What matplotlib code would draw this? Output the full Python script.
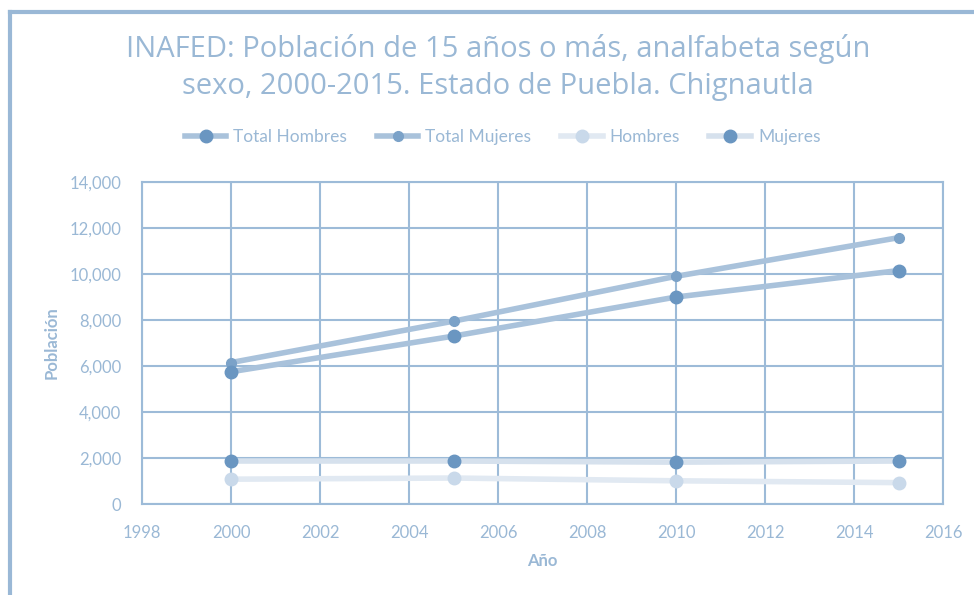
import numpy as np
import matplotlib.pyplot as plt
from matplotlib.lines import Line2D

plt.rcParams['font.family'] = ['Lato', 'DejaVu Sans']

years = [2000, 2005, 2010, 2015]
total_hombres = [5750, 7300, 9000, 10150]
total_mujeres = [6150, 7950, 9900, 11580]
hombres = [1080, 1130, 1010, 930]
mujeres = [1870, 1870, 1820, 1870]

txt = '#9ab8d5'
grid = '#9dbbd8'
dark = '#6a96c1'

fig = plt.figure(figsize=(9.74, 5.95), dpi=100)
ax = fig.add_axes([0.1458, 0.1529, 0.8224, 0.5412])

# frame of the chart (left and top only visible)
fig.add_artist(Line2D([0.0105, 0.0105], [0, 0.98], transform=fig.transFigure, color='#9ab8d6', lw=3))
fig.add_artist(Line2D([0.0105, 1.0], [0.98, 0.98], transform=fig.transFigure, color='#9ab8d6', lw=3))

ax.plot(years, total_hombres, color='#a9c2db', lw=4, marker='o', ms=9, mfc=dark, mec=dark, label='Total Hombres', zorder=4)
ax.plot(years, total_mujeres, color='#a9c2db', lw=4, marker='o', ms=7, mfc='#7ba2c8', mec='#7ba2c8', label='Total Mujeres', zorder=3)
ax.plot(years, hombres, color='#e1e9f2', lw=4, marker='o', ms=9, mfc='#c9d9ea', mec='#c9d9ea', label='Hombres', zorder=3)
ax.plot(years, mujeres, color='#d6e1ed', lw=4, marker='o', ms=9, mfc=dark, mec=dark, label='Mujeres', zorder=3)

ax.set_xlim(1998, 2016)
ax.set_ylim(0, 14000)
ax.set_xticks(np.arange(1998, 2017, 2))
ax.set_yticks(np.arange(0, 14001, 2000))
ax.yaxis.set_major_formatter(plt.FuncFormatter(lambda v, p: f'{int(v):,}'))
ax.grid(True, color=grid, lw=1.5)
ax.set_axisbelow(True)
for s in ax.spines.values():
    s.set_color(grid)
    s.set_linewidth(1.5)
ax.tick_params(length=0, labelsize=12, colors=txt)
ax.tick_params(axis='x', pad=15)
ax.tick_params(axis='y', pad=15)

ax.set_xlabel('Año', fontsize=12, color=txt, fontweight='bold', labelpad=9)
ax.set_ylabel('Población', fontsize=12, color=txt, fontweight='bold', labelpad=7)

fig.text(0.511, 0.886, 'INAFED: Población de 15 años o más, analfabeta según\nsexo, 2000-2015. Estado de Puebla. Chignautla',
         ha='center', va='center', fontsize=21, color=txt, linespacing=1.35,
         family=['Open Sans', 'DejaVu Sans'])

fig.legend(loc='center', bbox_to_anchor=(0.516, 0.77), ncol=4, frameon=False,
           fontsize=12.5, labelcolor=txt, handlelength=2.4, handletextpad=0.4,
           columnspacing=1.7)

fig.savefig('out.png', dpi=100)
